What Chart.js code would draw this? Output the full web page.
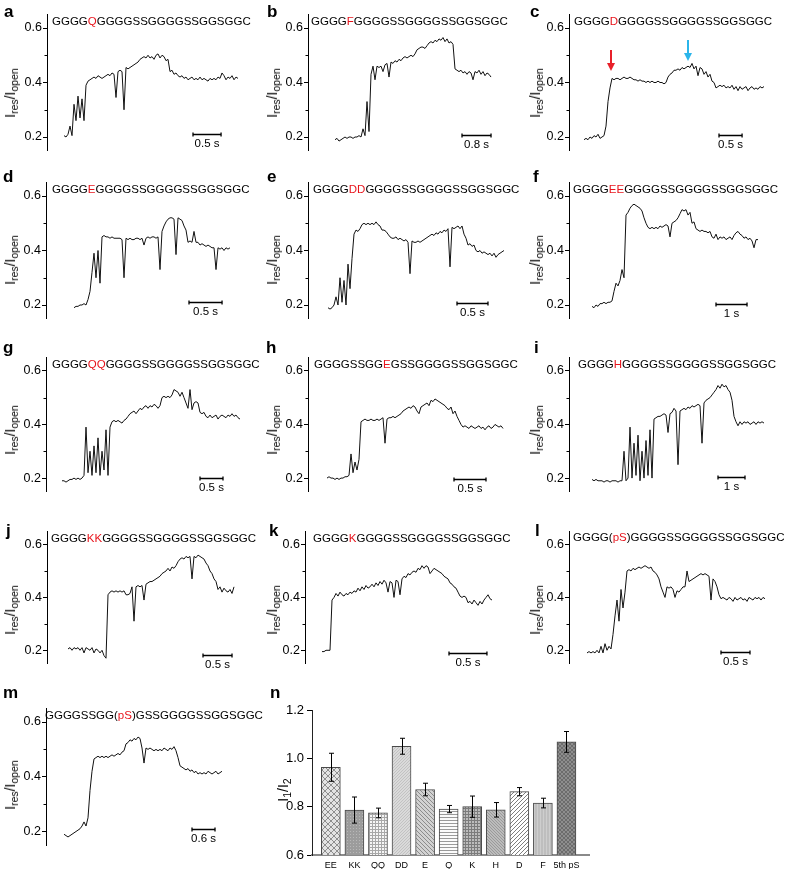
<!DOCTYPE html>
<html><head><meta charset="utf-8">
<script src="https://cdn.jsdelivr.net/npm/chart.js@4.4.1/dist/chart.umd.min.js"></script>
<style>
html,body{margin:0;padding:0;background:#fff;}
#fig{position:relative;width:787px;height:869px;overflow:hidden;font-family:"Liberation Sans",Arial,sans-serif;color:#000;}
.cv{position:absolute;}
.lt{position:absolute;font-weight:bold;font-size:17px;line-height:17px;}
.seq{position:absolute;font-size:11.5px;line-height:11.5px;white-space:nowrap;}
.seq span{color:#e8141c;}
.yt{position:absolute;white-space:nowrap;font-size:14px;line-height:14px;transform:translate(-50%,-50%) rotate(-90deg);}
.yt sub{font-size:10.5px;vertical-align:-3px;line-height:0;}
</style></head><body><div id="fig"></div>
<script>
// ---------------- DATA ----------------
const panelKeys = ['a','b','c','d','e','f','g','h','i','j','k','l','m'];
const seqParts = [
  ['GGGG','Q','GGGGSSGGGGSSGGSGGC'],
  ['GGGG','F','GGGGSSGGGGSSGGSGGC'],
  ['GGGG','D','GGGGSSGGGGSSGGSGGC'],
  ['GGGG','E','GGGGSSGGGGSSGGSGGC'],
  ['GGGG','DD','GGGGSSGGGGSSGGSGGC'],
  ['GGGG','EE','GGGGSSGGGGSSGGSGGC'],
  ['GGGG','QQ','GGGGSSGGGGSSGGSGGC'],
  ['GGGGSSGG','E','GSSGGGGSSGGSGGC'],
  ['GGGG','H','GGGGSSGGGGSSGGSGGC'],
  ['GGGG','KK','GGGGSSGGGGSSGGSGGC'],
  ['GGGG','K','GGGGSSGGGGSSGGSGGC'],
  ['GGGG(','pS',')GGGGSSGGGGSSGGSGGC'],
  ['GGGGSSGG(','pS',')GSSGGGGSSGGSGGC']
];
const traceA = [0.205,0.20,0.21,0.24,0.205,0.32,0.26,0.35,0.27,0.34,
0.26,0.39,0.405,0.41,0.415,0.42,0.415,0.425,0.42,0.415,
0.42,0.425,0.43,0.425,0.435,0.43,0.345,0.44,0.445,0.44,
0.30,0.455,0.45,0.455,0.46,0.465,0.47,0.475,0.485,0.49,
0.495,0.49,0.50,0.49,0.495,0.485,0.50,0.505,0.49,0.50,
0.495,0.48,0.485,0.44,0.445,0.43,0.435,0.425,0.42,0.425,
0.415,0.42,0.41,0.415,0.42,0.41,0.415,0.41,0.42,0.41,
0.415,0.41,0.405,0.415,0.41,0.415,0.41,0.42,0.415,0.435,
0.425,0.41,0.42,0.415,0.425,0.41,0.42,0.415];
const traceB = [0.19,0.195,0.185,0.19,0.195,0.20,0.195,0.20,0.20,0.195,
0.20,0.20,0.205,0.20,0.23,0.205,0.33,0.22,0.43,0.46,
0.41,0.46,0.455,0.46,0.44,0.465,0.47,0.42,0.475,0.47,
0.48,0.475,0.485,0.48,0.49,0.495,0.49,0.495,0.50,0.495,
0.505,0.52,0.525,0.53,0.53,0.525,0.535,0.545,0.55,0.545,
0.555,0.55,0.56,0.555,0.565,0.55,0.56,0.545,0.55,0.54,
0.45,0.445,0.44,0.445,0.435,0.44,0.43,0.44,0.435,0.41,
0.44,0.435,0.445,0.43,0.44,0.425,0.435,0.43,0.42];
const traceC = [0.19,0.195,0.19,0.20,0.195,0.205,0.20,0.21,0.195,0.20,
0.205,0.24,0.33,0.38,0.415,0.41,0.415,0.415,0.41,0.415,
0.42,0.415,0.415,0.42,0.415,0.41,0.41,0.405,0.41,0.405,
0.405,0.40,0.405,0.40,0.405,0.40,0.40,0.405,0.40,0.40,
0.395,0.40,0.42,0.43,0.435,0.445,0.445,0.45,0.445,0.455,
0.45,0.455,0.46,0.455,0.47,0.45,0.46,0.425,0.455,0.45,
0.43,0.44,0.42,0.43,0.405,0.40,0.38,0.385,0.39,0.385,
0.39,0.38,0.385,0.38,0.39,0.375,0.385,0.37,0.385,0.375,
0.38,0.385,0.37,0.38,0.385,0.375,0.38,0.375,0.385,0.38,
0.385];
const traceD = [0.19,0.195,0.195,0.20,0.20,0.205,0.20,0.22,0.25,0.32,
0.39,0.30,0.40,0.28,0.45,0.455,0.45,0.45,0.445,0.45,
0.445,0.445,0.445,0.445,0.44,0.30,0.445,0.44,0.445,0.44,
0.44,0.445,0.445,0.44,0.445,0.42,0.445,0.45,0.445,0.45,
0.45,0.445,0.45,0.33,0.47,0.49,0.505,0.515,0.52,0.52,
0.515,0.385,0.52,0.515,0.51,0.49,0.475,0.43,0.435,0.43,
0.47,0.43,0.43,0.42,0.425,0.42,0.415,0.42,0.415,0.41,
0.41,0.33,0.41,0.405,0.41,0.40,0.41,0.405,0.41];
const traceE = [0.19,0.185,0.19,0.20,0.23,0.20,0.30,0.21,0.29,0.20,
0.35,0.26,0.37,0.46,0.475,0.47,0.48,0.495,0.50,0.495,
0.50,0.495,0.50,0.495,0.505,0.495,0.49,0.475,0.475,0.47,
0.46,0.45,0.445,0.445,0.45,0.44,0.445,0.44,0.435,0.44,
0.43,0.315,0.435,0.43,0.43,0.435,0.43,0.435,0.44,0.445,
0.45,0.455,0.46,0.455,0.465,0.46,0.47,0.465,0.475,0.47,
0.48,0.34,0.485,0.48,0.485,0.49,0.48,0.49,0.46,0.445,
0.42,0.425,0.415,0.42,0.40,0.395,0.40,0.39,0.395,0.39,
0.385,0.39,0.38,0.39,0.375,0.385,0.39,0.395,0.40];
const traceF = [0.195,0.19,0.20,0.195,0.205,0.205,0.21,0.205,0.21,0.21,
0.215,0.25,0.28,0.27,0.29,0.33,0.30,0.53,0.54,0.555,
0.565,0.57,0.565,0.56,0.555,0.545,0.52,0.50,0.485,0.48,
0.485,0.48,0.485,0.48,0.49,0.485,0.49,0.495,0.49,0.45,
0.50,0.505,0.51,0.52,0.535,0.55,0.545,0.55,0.53,0.54,
0.50,0.505,0.48,0.475,0.47,0.475,0.47,0.47,0.465,0.47,
0.45,0.445,0.46,0.44,0.45,0.445,0.45,0.44,0.445,0.45,
0.44,0.455,0.465,0.47,0.46,0.455,0.445,0.45,0.44,0.445,
0.435,0.41,0.44,0.44];
const traceG = [0.19,0.19,0.185,0.19,0.195,0.195,0.20,0.195,0.20,0.195,
0.20,0.21,0.39,0.22,0.30,0.21,0.32,0.22,0.35,0.21,
0.30,0.23,0.38,0.21,0.39,0.41,0.415,0.41,0.415,0.41,
0.405,0.415,0.42,0.43,0.44,0.445,0.45,0.44,0.45,0.46,
0.455,0.465,0.47,0.46,0.47,0.465,0.475,0.47,0.46,0.47,
0.50,0.505,0.50,0.505,0.50,0.51,0.53,0.525,0.52,0.505,
0.52,0.50,0.48,0.46,0.53,0.455,0.48,0.485,0.48,0.445,
0.44,0.445,0.43,0.425,0.435,0.425,0.43,0.435,0.42,0.43,
0.435,0.43,0.425,0.435,0.43,0.44,0.43,0.435,0.425,0.42];
const traceH = [0.20,0.205,0.20,0.20,0.195,0.20,0.195,0.20,0.20,0.205,
0.205,0.21,0.29,0.22,0.26,0.23,0.27,0.41,0.415,0.42,
0.415,0.415,0.42,0.415,0.415,0.42,0.415,0.42,0.425,0.33,
0.42,0.425,0.425,0.43,0.425,0.43,0.435,0.44,0.45,0.455,
0.46,0.465,0.46,0.47,0.465,0.45,0.44,0.465,0.47,0.475,
0.48,0.47,0.49,0.485,0.495,0.49,0.485,0.48,0.475,0.47,
0.46,0.455,0.465,0.44,0.45,0.43,0.415,0.40,0.39,0.395,
0.39,0.385,0.395,0.39,0.385,0.39,0.395,0.385,0.39,0.38,
0.39,0.395,0.385,0.39,0.40,0.395,0.39,0.395,0.385];
const traceI = [0.195,0.19,0.195,0.19,0.19,0.19,0.185,0.19,0.19,0.185,
0.19,0.19,0.19,0.185,0.19,0.19,0.30,0.19,0.20,0.39,
0.20,0.33,0.21,0.36,0.19,0.30,0.20,0.34,0.21,0.38,
0.20,0.42,0.425,0.43,0.43,0.435,0.44,0.435,0.37,0.44,
0.445,0.46,0.45,0.25,0.45,0.455,0.46,0.455,0.465,0.46,
0.47,0.465,0.47,0.475,0.47,0.33,0.48,0.49,0.495,0.50,
0.51,0.52,0.53,0.545,0.535,0.55,0.54,0.545,0.53,0.52,
0.49,0.43,0.41,0.395,0.41,0.40,0.41,0.405,0.41,0.40,
0.405,0.41,0.40,0.41,0.405,0.41,0.405];
const traceJ = [0.205,0.21,0.20,0.21,0.205,0.21,0.20,0.21,0.19,0.21,
0.205,0.20,0.21,0.19,0.205,0.20,0.19,0.20,0.18,0.17,
0.41,0.42,0.425,0.42,0.425,0.42,0.425,0.42,0.425,0.41,
0.41,0.415,0.44,0.31,0.44,0.445,0.44,0.445,0.39,0.45,
0.455,0.46,0.46,0.465,0.47,0.475,0.48,0.49,0.495,0.50,
0.51,0.50,0.515,0.51,0.52,0.535,0.545,0.55,0.545,0.555,
0.55,0.555,0.47,0.555,0.55,0.56,0.555,0.55,0.545,0.53,
0.52,0.50,0.49,0.47,0.46,0.43,0.44,0.42,0.435,0.425,
0.42,0.43,0.415,0.44];
const traceK = [0.195,0.195,0.20,0.20,0.20,0.39,0.40,0.415,0.405,0.42,
0.41,0.405,0.415,0.41,0.42,0.415,0.425,0.42,0.435,0.425,
0.44,0.43,0.445,0.435,0.44,0.45,0.44,0.455,0.445,0.46,
0.45,0.465,0.455,0.42,0.46,0.455,0.40,0.465,0.46,0.41,
0.47,0.48,0.475,0.49,0.485,0.495,0.50,0.495,0.51,0.505,
0.52,0.51,0.52,0.515,0.49,0.50,0.51,0.505,0.50,0.495,
0.49,0.48,0.475,0.47,0.455,0.45,0.44,0.435,0.42,0.405,
0.40,0.405,0.40,0.38,0.385,0.375,0.39,0.38,0.37,0.385,
0.375,0.39,0.40,0.41,0.395,0.39];
const traceL = [0.19,0.195,0.19,0.195,0.19,0.20,0.19,0.215,0.19,0.225,
0.20,0.215,0.205,0.26,0.33,0.39,0.31,0.43,0.36,0.42,
0.50,0.505,0.50,0.51,0.505,0.51,0.515,0.51,0.515,0.52,
0.515,0.51,0.515,0.50,0.495,0.485,0.47,0.44,0.42,0.40,
0.44,0.435,0.44,0.43,0.40,0.425,0.42,0.43,0.44,0.44,
0.50,0.46,0.465,0.47,0.475,0.48,0.485,0.49,0.485,0.49,
0.485,0.48,0.39,0.47,0.46,0.44,0.41,0.395,0.40,0.395,
0.39,0.40,0.395,0.385,0.40,0.39,0.395,0.40,0.39,0.395,
0.385,0.40,0.395,0.39,0.40,0.395,0.40,0.39,0.40,0.395];
const traceM = [0.19,0.185,0.18,0.185,0.19,0.195,0.20,0.205,0.21,0.22,
0.235,0.22,0.25,0.35,0.42,0.465,0.47,0.475,0.47,0.475,
0.47,0.475,0.47,0.475,0.48,0.475,0.48,0.485,0.48,0.49,
0.495,0.52,0.525,0.535,0.53,0.54,0.535,0.545,0.54,0.505,
0.45,0.505,0.50,0.505,0.50,0.495,0.50,0.495,0.50,0.495,
0.505,0.50,0.495,0.505,0.50,0.51,0.495,0.47,0.44,0.435,
0.43,0.425,0.43,0.42,0.425,0.415,0.42,0.41,0.415,0.41,
0.415,0.41,0.42,0.415,0.41,0.415,0.42,0.41,0.415,0.42];
const traceData = [traceA,traceB,traceC,traceD,traceE,traceF,traceG,traceH,traceI,traceJ,traceK,traceL,traceM];
const durations = [3.1,4.3,3.9,2.36,2.84,5.35,3.87,2.75,6.37,2.86,2.24,3.07,4.12]; // seconds
const scaleBarSeconds = [0.5,0.8,0.5,0.5,0.5,1,0.5,0.5,1,0.5,0.5,0.5,0.6];
const scaleBarText = ['0.5 s','0.8 s','0.5 s','0.5 s','0.5 s','1 s','0.5 s','0.5 s','1 s','0.5 s','0.5 s','0.5 s','0.6 s'];
const traceMajorTicks = [0.2,0.4,0.6];
const traceMinorTicks = [0.3,0.5];

const barLabels = ['EE','KK','QQ','DD','E','Q','K','H','D','F','5th pS'];
const barValues = [0.963,0.786,0.774,1.050,0.871,0.790,0.800,0.787,0.862,0.815,1.068];
const barErrors = [0.058,0.054,0.020,0.033,0.026,0.015,0.044,0.030,0.017,0.020,0.043];
const barMajorTicks = [0.6,0.8,1.0,1.2];

// ---------------- LAYOUT ----------------
const R1={y0:0,h:165,y06:28,y02:137,ly:17,ty:93,sy:22};
const R2={y0:165,h:170,y06:196,y02:305,ly:182,ty:260,sy:190};
const R3={y0:335,h:165,y06:371,y02:480,ly:353,ty:430,sy:365};
const R4={y0:500,h:172,y06:545,y02:654.5,ly:536,ty:610,sy:539};
const R5={y0:665,h:204,y06:722,y02:831.5,ly:698,ty:785,sy:716};
const layout = [
 Object.assign({},R1,{x0:0,w:262,ax:47,t0:64,t1:238,bx:193,by:134,sx:52,lx:4,tx:10}),
 Object.assign({},R1,{x0:262,w:263,ax:308,t0:335,t1:491,bx:462,by:135,sx:311,lx:267,tx:272}),
 Object.assign({},R1,{x0:525,w:262,ax:569,t0:584,t1:764,bx:719,by:135,sx:574,lx:530,tx:535}),
 Object.assign({},R2,{x0:0,w:262,ax:46,t0:74,t1:230,bx:189,by:302,sx:52,lx:3,tx:10}),
 Object.assign({},R2,{x0:262,w:263,ax:308,t0:328,t1:504,bx:457,by:303,sx:313,lx:267,tx:272}),
 Object.assign({},R2,{x0:525,w:262,ax:569,t0:592,t1:758,bx:716,by:304,sx:573,lx:533,tx:535}),
 Object.assign({},R3,{x0:0,w:262,ax:46,t0:62,t1:240,bx:200,by:478,sx:52,lx:3,tx:10}),
 Object.assign({},R3,{x0:262,w:263,ax:308,t0:327,t1:503,bx:454,by:479,sx:314,lx:266,tx:272}),
 Object.assign({},R3,{x0:525,w:262,ax:569,t0:592,t1:764,bx:718,by:477,sx:578,lx:534,tx:535}),
 Object.assign({},R4,{x0:0,w:262,ax:47,t0:68,t1:234,bx:203,by:655,sx:51,lx:6,tx:10}),
 Object.assign({},R4,{x0:262,w:263,ax:305,t0:322,t1:492,bx:449,by:653,sx:313,lx:269,tx:272}),
 Object.assign({},R4,{x0:525,w:262,ax:569,t0:587,t1:765,bx:721,by:652,sx:573,sy:538,lx:535,tx:535}),
 Object.assign({},R5,{x0:0,w:262,ax:46,t0:64,t1:222,bx:192,by:829,sx:45,lx:3,tx:10})
];

Chart.defaults.font.family = '"Liberation Sans", Arial, sans-serif';
const fig = document.getElementById('fig');

function addDiv(cls, html, left, top){
  const d=document.createElement('div'); d.className=cls; d.innerHTML=html;
  d.style.left=left+'px'; d.style.top=top+'px'; fig.appendChild(d); return d;
}
function addCanvas(x0,y0,w,h){
  const c=document.createElement('canvas'); c.className='cv'; c.width=w; c.height=h;
  c.style.left=x0+'px'; c.style.top=y0+'px'; c.style.width=w+'px'; c.style.height=h+'px';
  fig.appendChild(c); return c;
}

function makeTrace(idx){
  const p = layout[idx], vals = traceData[idx], dur = durations[idx];
  const k = (p.y02 - p.y06)/0.4;
  const yTop = p.y06 - 0.05*k, yBot = p.y02 + 0.05*k;
  const dt = dur/(vals.length-1);
  const data = vals.map((v,i)=>({x:i*dt, y:v}));
  const pps = (p.t1 - p.t0)/dur;
  const xmin = -(p.t0 - p.ax)/pps, xmax = (p.x0 + p.w - p.t0)/pps;
  const cv = addCanvas(p.x0,p.y0,p.w,p.h);
  const deco = {
    id:'deco'+idx,
    afterDraw(chart){
      const ctx=chart.ctx, xs=chart.scales.x, ys=chart.scales.y;
      ctx.save(); ctx.strokeStyle='#000'; ctx.lineWidth=1;
      traceMinorTicks.forEach(v=>{
        const y=Math.round(ys.getPixelForValue(v))+0.5;
        ctx.beginPath(); ctx.moveTo(ys.right-2.5,y); ctx.lineTo(ys.right,y); ctx.stroke();
      });
      const x1 = p.bx - p.x0;
      const x2 = x1 + xs.getPixelForValue(scaleBarSeconds[idx]) - xs.getPixelForValue(0);
      const y = p.by - p.y0 + 0.5;
      ctx.lineWidth=1.3; ctx.beginPath();
      ctx.moveTo(x1,y); ctx.lineTo(x2,y);
      ctx.moveTo(x1,y-2); ctx.lineTo(x1,y+2);
      ctx.moveTo(x2,y-2); ctx.lineTo(x2,y+2);
      ctx.stroke();
      ctx.fillStyle='#000'; ctx.font='11.5px "Liberation Sans", Arial, sans-serif';
      ctx.textAlign='center'; ctx.textBaseline='middle';
      ctx.fillText(scaleBarText[idx], (x1+x2)/2, y+9);
      ctx.restore();
    }
  };
  new Chart(cv,{
    type:'line',
    data:{datasets:[{data, parsing:false, borderColor:'#111', borderWidth:1, pointRadius:0, tension:0, fill:false}]},
    options:{
      responsive:false, animation:false, events:[],
      layout:{padding:{top:yTop-p.y0, bottom:p.y0+p.h-yBot, left:0, right:0}},
      plugins:{legend:{display:false}, tooltip:{enabled:false}},
      scales:{
        x:{type:'linear', display:false, min:xmin, max:xmax},
        y:{type:'linear', min:0.15, max:0.65,
           afterBuildTicks:s=>{s.ticks=traceMajorTicks.map(v=>({value:v}));},
           afterFit:s=>{s.width=p.ax-p.x0;},
           ticks:{callback:v=>Number(v).toFixed(1), font:{size:12.5}, color:'#000', padding:1, autoSkip:false},
           grid:{drawOnChartArea:false, drawTicks:true, tickLength:4, color:'#000'},
           border:{display:true, color:'#000', width:1}}
      }
    },
    plugins:[deco]
  });
  const sp = seqParts[idx];
  addDiv('seq', sp[0]+'<span>'+sp[1]+'</span>'+sp[2], p.sx, p.sy-5.6);
  addDiv('lt', panelKeys[idx], p.lx, p.ly-14.4);
  addDiv('yt', 'I<sub>res</sub>/I<sub>open</sub>', p.tx, p.ty);
}
for(let i=0;i<panelKeys.length;i++) makeTrace(i);

// ---------------- panel n (bar chart) ----------------
(function(){
  const x0=262, y0=680, w=328, h=189;
  const cv = addCanvas(x0,y0,w,h);
  const g2 = cv.getContext('2d');
  function pat(bg, fg, kind, s){
    const c=document.createElement('canvas'); c.width=s; c.height=s;
    const g=c.getContext('2d'); g.fillStyle=bg; g.fillRect(0,0,s,s);
    g.strokeStyle=fg; g.lineWidth=1; g.beginPath();
    if(kind.indexOf('/')>=0){ g.moveTo(0,s); g.lineTo(s,0); g.moveTo(-1,1); g.lineTo(1,-1); g.moveTo(s-1,s+1); g.lineTo(s+1,s-1); }
    if(kind.indexOf('\\')>=0){ g.moveTo(0,0); g.lineTo(s,s); g.moveTo(s-1,-1); g.lineTo(s+1,1); g.moveTo(-1,s-1); g.lineTo(1,s+1); }
    if(kind.indexOf('-')>=0){ g.moveTo(0,s-0.5); g.lineTo(s,s-0.5); }
    if(kind.indexOf('|')>=0){ g.moveTo(s-0.5,0); g.lineTo(s-0.5,s); }
    g.stroke();
    if(kind.indexOf('.')>=0){ g.fillStyle=fg; g.fillRect(1,1,1,1); }
    return g2.createPattern(c,'repeat');
  }
  const fills = [
    pat('#e4e4e4','#8e8e8e','/\\',6),
    pat('#9c9c9c','#b8b8b8','.',3),
    pat('#f6f6f6','#a8a8a8','-|',3),
    pat('#dadada','#c2c2c2','/',3),
    pat('#d2d2d2','#8c8c8c','\\',4),
    pat('#fbfbfb','#9a9a9a','-',3),
    pat('#bdbdbd','#7c7c7c','-|',3),
    pat('#bcbcbc','#9a9a9a','\\',3),
    pat('#ffffff','#7e7e7e','/',4),
    pat('#bebebe','#cecece','|',3),
    pat('#8e8e8e','#6c6c6c','/\\',4)
  ];
  const errPlugin = {
    id:'errbars',
    afterDatasetsDraw(chart){
      const xs=chart.scales.x, ys=chart.scales.y, ctx=chart.ctx;
      ctx.save(); ctx.strokeStyle='#000'; ctx.lineWidth=1;
      barValues.forEach((v,i)=>{
        const x=Math.round(xs.getPixelForValue(i))+0.5;
        const yt=ys.getPixelForValue(v+barErrors[i]), yb=ys.getPixelForValue(v-barErrors[i]);
        ctx.beginPath(); ctx.moveTo(x,yt); ctx.lineTo(x,yb);
        ctx.moveTo(x-2.5,yt); ctx.lineTo(x+2.5,yt); ctx.moveTo(x-2.5,yb); ctx.lineTo(x+2.5,yb);
        ctx.stroke();
      });
      ctx.restore();
    }
  };
  new Chart(cv,{
    type:'bar',
    data:{datasets:[{data:barValues.map((v,i)=>({x:i,y:v})), backgroundColor:fills, borderColor:'#4a4a4a', borderWidth:1, barThickness:19}]},
    options:{
      responsive:false, animation:false, events:[],
      layout:{padding:{top:30,left:0,right:0,bottom:0}},
      plugins:{legend:{display:false}, tooltip:{enabled:false}},
      scales:{
        x:{type:'linear', min:-0.8, max:11, offset:false,
           afterBuildTicks:s=>{s.ticks=barLabels.map((l,i)=>({value:i}));},
           afterFit:s=>{s.height=14;},
           ticks:{callback:(v,i)=>barLabels[i], font:{size:9}, color:'#000', padding:5, maxRotation:0, autoSkip:false},
           grid:{drawOnChartArea:false, drawTicks:false},
           border:{display:true, color:'#8a8a8a', width:2}},
        y:{type:'linear', min:0.6, max:1.2,
           afterBuildTicks:s=>{s.ticks=barMajorTicks.map(v=>({value:v}));},
           afterFit:s=>{s.width=50;},
           ticks:{callback:v=>Number(v).toFixed(1), font:{size:13}, color:'#000', padding:3, autoSkip:false},
           grid:{drawOnChartArea:false, drawTicks:true, tickLength:5, color:'#000'},
           border:{display:true, color:'#222', width:1}}
      }
    },
    plugins:[errPlugin]
  });
  addDiv('lt','n',270,698-14.4);
  addDiv('yt','I<sub>1</sub>/I<sub>2</sub>',283,790);
})();

// arrows in panel c
const svgNS='http://www.w3.org/2000/svg';
const svg=document.createElementNS(svgNS,'svg');
svg.setAttribute('width','787'); svg.setAttribute('height','869');
svg.style.position='absolute'; svg.style.left='0'; svg.style.top='0'; svg.style.pointerEvents='none';
svg.innerHTML='<line x1="611" y1="50" x2="611" y2="65" stroke="#e8202a" stroke-width="2"/>'+
 '<polygon points="607,63 615,63 611,71" fill="#e8202a"/>'+
 '<line x1="688" y1="40" x2="688" y2="55" stroke="#2bb5ea" stroke-width="2"/>'+
 '<polygon points="684,53 692,53 688,61" fill="#2bb5ea"/>';
fig.appendChild(svg);
</script></body></html>
